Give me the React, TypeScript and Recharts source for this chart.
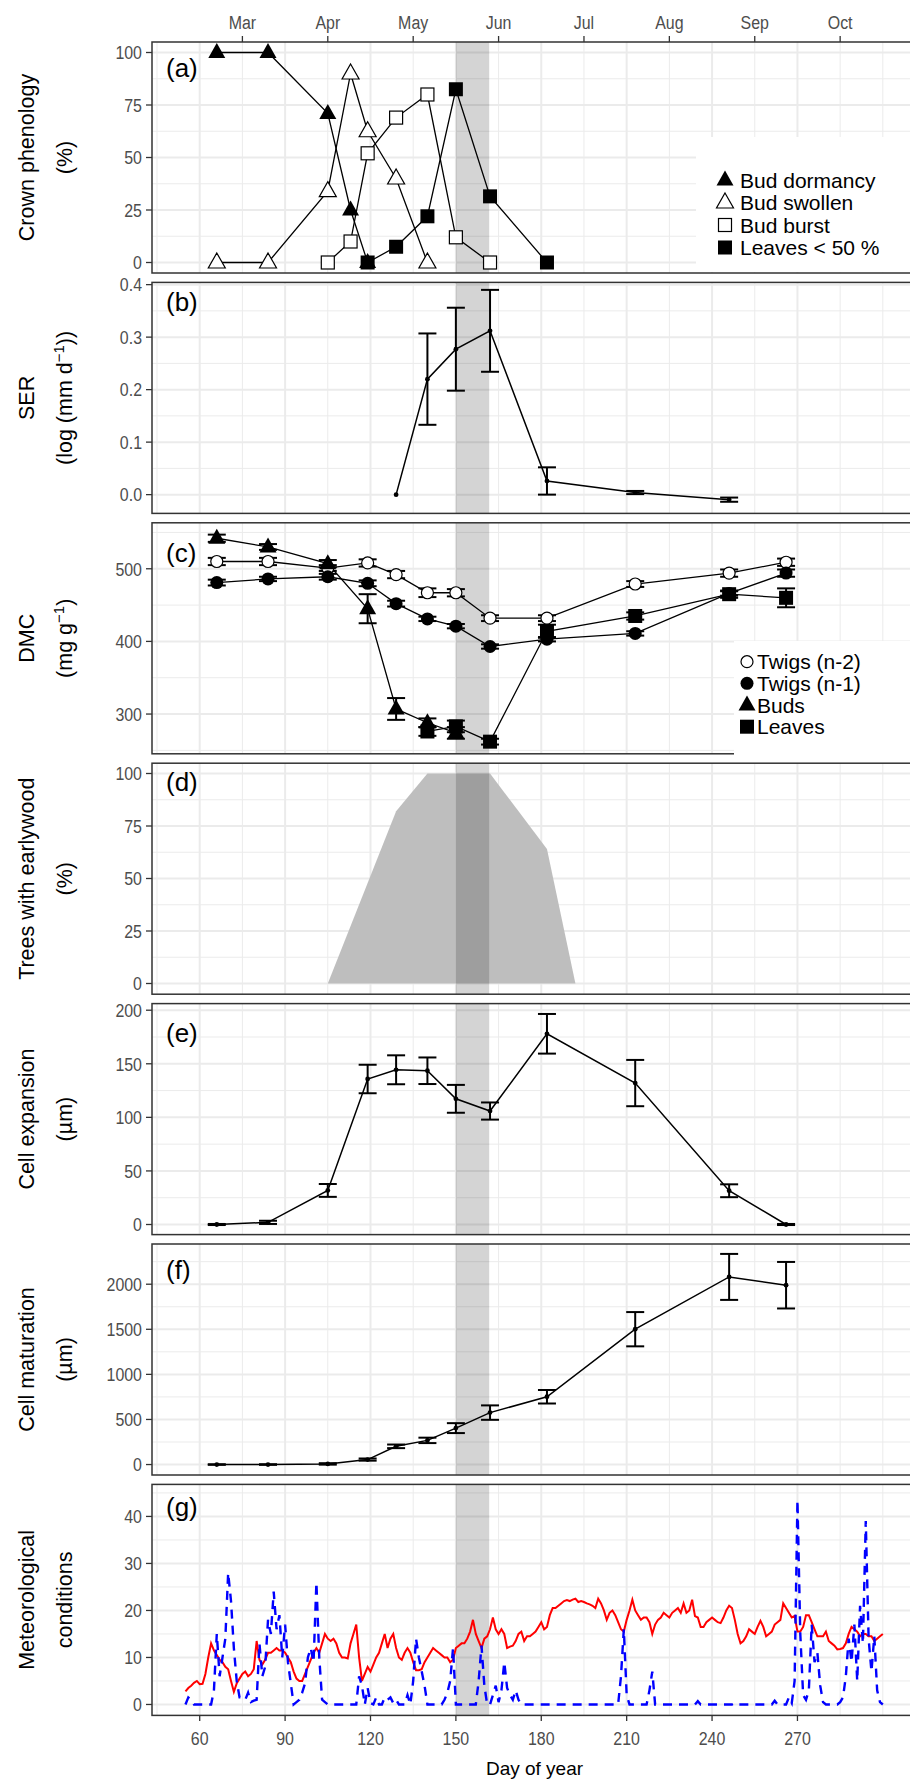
import React from 'react';
import { ComposedChart, Line, Area, XAxis, YAxis, ReferenceLine, ReferenceArea, ErrorBar } from 'recharts';

// ---------------- data ----------------
const monthLabels = ['Mar', 'Apr', 'May', 'Jun', 'Jul', 'Aug', 'Sep', 'Oct'];
const monthTicks = [75, 105, 135, 165, 195, 225, 255, 285];
const dayTicks = [60, 90, 120, 150, 180, 210, 240, 270];
const dayMinor = [45, 75, 105, 135, 165, 195, 225, 255, 285, 300];
const bandStart = 150;
const bandEnd = 161.7;

// (a) crown phenology (%)
const dormancyDays = [66, 84, 105, 113, 119];
const dormancyPct = [100, 100, 71, 25, 0];
const swollenDays = [66, 84, 105, 113, 119, 129, 140];
const swollenPct = [0, 0, 34, 90, 62.5, 40, 0];
const burstDays = [105, 113, 119, 129, 140, 150, 162];
const burstPct = [0, 10, 52, 69, 80, 12, 0];
const leaves50Days = [119, 129, 140, 150, 162, 182];
const leaves50Pct = [0, 7.5, 22, 82.5, 31.5, 0];

// (b) SER
const serDays = [129, 140, 150, 162, 182, 213, 246];
const serVal = [0, 0.22, 0.277, 0.312, 0.026, 0.004, -0.0096];
const serErr = [0, 0.087, 0.079, 0.078, 0.026, 0.003, 0.004];

// (c) DMC
const twigs2Days = [66, 84, 105, 119, 129, 140, 150, 162, 182, 213, 246, 266];
const twigs2Val = [510, 510, 501, 508, 492, 467, 467, 432, 432, 479, 494, 509];
const twigs2Err = [5, 5, 4, 5, 5, 6, 5, 4, 4, 4, 5, 5];
const twigs1Days = [66, 84, 105, 119, 129, 140, 150, 162, 182, 213, 246, 266];
const twigs1Val = [481, 486, 489, 480, 452, 431, 421, 393, 403, 411, 466, 494];
const twigs1Err = [4, 3, 4, 4, 4, 3, 3, 3, 3, 3, 3, 5];
const budsDays = [66, 84, 105, 119, 129, 140, 150];
const budsVal = [542, 530, 507, 445, 307, 288, 274];
const budsErr = [5, 4, 5, 20, 15, 6, 8];
const leavesDays = [140, 150, 162, 182, 213, 246, 266];
const leavesVal = [276, 283, 262, 414, 435, 465, 460];
const leavesErr = [6, 8, 4, 9, 5, 5, 13];

// (d) trees with earlywood (%)
const earlyDays = [105, 129, 140, 150, 162, 182, 192];
const earlyPct = [0, 82, 100, 100, 100, 64, 0];

// (e) cell expansion (um)
const xylemDays = [66, 84, 105, 119, 129, 140, 150, 162, 182, 213, 246, 266];
const expVal = [0, 2, 31.8, 135.8, 144.4, 143.5, 117.3, 105.9, 178, 132, 31.5, 0];
const expErr = [0.5, 1.5, 6, 13.3, 13.5, 12.4, 13, 8, 18.5, 21.6, 6, 0.5];

// (f) cell maturation (um)
const matVal = [0, 0, 7, 55, 202, 268, 404, 576, 752, 1501, 2081, 1989];
const matErr = [3, 3, 8, 12, 20, 30, 55, 80, 75, 190, 255, 258];

// (g) meteorological conditions, daily from day 55 to day 300
const metFirstDay = 55;
const temperature = [
  2.8, 3.5, 4.0, 4.6, 5.0, 4.3, 4.4, 6.5, 10, 13,
  11.5, 10.5, 9.5, 9, 8, 7.5, 5, 2.7, 4.5, 5.5,
  6.5, 7, 6, 6.5, 7.5, 13.5, 9.5, 8.5, 9.5, 11,
  11, 11.5, 12, 11.5, 11.5, 11, 10, 9, 7, 5.5,
  5, 5, 6.5, 8, 9.5, 11, 12, 11, 13, 15,
  14, 13.5, 14, 13, 11, 10, 10, 9.8, 13, 15,
  17, 10, 5, 6.5, 8, 7, 8.5, 10, 11, 13,
  15, 12, 14, 15, 12, 10, 9.5, 11, 12, 11,
  9, 7.3, 7.3, 7.5, 9, 10, 11, 12, 11.5, 11,
  10.5, 10, 10, 9, 9.5, 12, 12.5, 13, 13, 14,
  15.5, 18, 15, 13.5, 12, 14, 14.5, 16, 18.5, 16,
  15, 16, 15, 12, 12.3, 12.5, 13.5, 15, 15.5, 13.5,
  14.5, 14.5, 15, 15.5, 16.5, 17.5, 16, 16.5, 19, 20.5,
  20.5, 21, 21.5, 22, 22.2, 22, 22.3, 22.5, 21.8, 22,
  21.8, 21.5, 21.3, 21, 20.5, 22.5, 21.5, 20, 18, 19.5,
  20, 19, 17.5, 16, 15.5, 18, 20, 22.3, 20, 19,
  18, 18.5, 18.5, 17.5, 15, 17, 18, 18.5, 19.5, 19,
  18.5, 19.5, 20, 20.5, 19.5, 21.5, 19.5, 20, 22.3, 18.8,
  18.5, 16.5, 16.5, 17.5, 18, 18.5, 18, 17.5, 17.3, 18.5,
  20, 21, 20.5, 18, 15, 13, 13.5, 14.5, 16, 15.5,
  15, 16.5, 17.8, 16.5, 14.5, 15, 15.5, 17, 17.5, 18,
  21.5, 20.5, 19.5, 18.5, 18.8, 15.5, 15.5, 16.5, 19, 19,
  17.5, 16, 14.5, 14.5, 14.5, 15.5, 13.5, 13, 12.5, 11.7,
  11.8, 12, 13, 15, 16.5, 16, 15.5, 14.5, 15, 15,
  14.5, 14.5, 13.5, 14, 14.5, 15,
];
const precipitation = [
  0, 1.5, 1, 0, 0, 0, 0, 0, 0, 0,
  3, 15, 6, 10, 14, 28, 22, 12, 5, 1.5,
  1.5, 1, 2.5, 0.5, 0.8, 1, 13, 6, 8, 18,
  15, 24, 16, 19, 10, 17, 9, 4.5, 0, 0.5,
  1, 2.5, 4.5, 10, 12, 9, 26, 10, 1, 0.5,
  0, 0, 0, 0, 0, 0, 0, 0, 0, 0,
  0, 6, 4, 0, 3.5, 0.3, 0, 1.5, 0, 0,
  1.5, 1, 1.5, 0.3, 1, 0, 0, 0, 2, 0,
  5, 14, 10, 7, 4, 0, 0, 0, 0, 0,
  0, 1, 2.5, 5, 12, 0, 0, 0, 0, 0,
  0, 0, 0, 5, 12.5, 4, 0, 0, 2, 4,
  0.5, 3, 9, 3.5, 2, 1, 3, 1, 0, 0,
  0, 0, 0, 0, 0, 0, 0, 0, 0, 0,
  0, 0, 0, 0, 0, 0, 0, 0, 0, 0,
  0, 0, 0, 0, 0, 0, 0, 0, 0, 0,
  0, 0, 0, 6, 16, 2, 0, 0, 0, 0,
  0, 0, 0, 3, 7, 0, 0, 0, 0, 0,
  0, 0, 0, 0, 0, 0, 0, 0, 0, 0,
  0.7, 0, 0, 0, 0, 0, 0, 0, 0, 0,
  0, 0, 0, 0.3, 0, 0, 0, 0, 0, 0,
  0, 0, 0, 0, 0, 0, 0, 0.8, 0, 0,
  0, 0, 1.5, 0.3, 5, 43.5, 15, 2, 1, 3,
  17, 9, 11, 4, 0.5, 0, 0, 0, 0, 0,
  0.5, 1.5, 6, 14, 9, 17, 5, 21, 13, 39,
  14, 7, 14.5, 3, 0.5, 0,
];

// ---------------- layout / style ----------------
const CHART_W = 917;
const Y_AXIS_W = 152;
const P = 231;
const PITCH = 240.4;
const TOP0 = 42;
const PAD = 14;
const X_DOMAIN: [number, number] = [43.24, 312];
const SANS = "'Liberation Sans',Arial,sans-serif";
const GRID = '#ebebeb';
const panelTop = (i: number) => TOP0 + i * PITCH;

const pts = (xs: number[], ys: number[], es?: number[]) =>
  xs.map((x, i) => ({ x, y: ys[i], e: es ? es[i] : 0 }));
const metTemp = temperature.map((y, i) => ({ x: metFirstDay + i, y }));
const metPrec = precipitation.map((y, i) => ({ x: metFirstDay + i, y }));

// condensed grey tick labels (like the original's narrow font)
const mkTick = (orient: 'left' | 'top' | 'bottom', fmt?: (v: number) => string) => (props: any) => {
  const { x, y, payload, index } = props;
  const v = payload?.value;
  const label = fmt ? fmt(v) : String(v);
  const dy = orient === 'left' ? '0.36em' : orient === 'bottom' ? '0.72em' : '0';
  const anchor = orient === 'left' ? 'end' : 'middle';
  return (
    <g key={`t-${orient}-${index}-${v}`} transform={`translate(${x},${y}) scale(0.84,1)`}>
      <text x={0} y={0} dy={dy} textAnchor={anchor} fill="#4d4d4d" fontSize={19} fontFamily={SANS}>{label}</text>
    </g>
  );
};

// ---------------- markers ----------------
type DP = { cx?: number; cy?: number; index?: number };
const triPath = (cx: number, cy: number) => `M${cx},${cy - 9.5} L${cx + 8.5},${cy + 5.5} L${cx - 8.5},${cy + 5.5} Z`;
const mkDot = (kind: string) => (p: DP) => {
  const { cx, cy, index } = p;
  const k = `${kind}-${index}`;
  if (cx == null || cy == null) return <g key={k} />;
  switch (kind) {
    case 'triF': return <path key={k} d={triPath(cx, cy)} fill="#000" />;
    case 'triO': return <path key={k} d={triPath(cx, cy)} fill="#fff" stroke="#000" strokeWidth={1.2} />;
    case 'sqF': return <rect key={k} x={cx - 7} y={cy - 7} width={14} height={14} fill="#000" />;
    case 'sqO': return <rect key={k} x={cx - 6.5} y={cy - 6.5} width={13} height={13} fill="#fff" stroke="#000" strokeWidth={1.2} />;
    case 'cirF': return <circle key={k} cx={cx} cy={cy} r={6.5} fill="#000" />;
    case 'cirO': return <circle key={k} cx={cx} cy={cy} r={6} fill="#fff" stroke="#000" strokeWidth={1.2} />;
    default: return <circle key={k} cx={cx} cy={cy} r={2.4} fill="#000" />;
  }
};

// ---------------- helpers ----------------
function gridLines(yMajor: number[], yMinor: number[]) {
  const out: React.ReactElement[] = [];
  dayMinor.forEach((d) => out.push(<ReferenceLine key={`xm${d}`} x={d} stroke={GRID} strokeWidth={1} zIndex={-100} />));
  dayTicks.forEach((d) => out.push(<ReferenceLine key={`xM${d}`} x={d} stroke={GRID} strokeWidth={2} zIndex={-100} />));
  yMinor.forEach((v) => out.push(<ReferenceLine key={`ym${v}`} y={v} stroke={GRID} strokeWidth={1} zIndex={-100} />));
  yMajor.forEach((v) => out.push(<ReferenceLine key={`yM${v}`} y={v} stroke={GRID} strokeWidth={2} zIndex={-100} />));
  return out;
}
const band = () => (
  <ReferenceArea key="band" x1={bandStart} x2={bandEnd} fill="#000" fillOpacity={0.17} stroke="none" zIndex={150} />
);

// line with markers, then the error bars drawn on top of the markers
function errLine(key: string, data: any[], dot: string, sw = 1.3) {
  return [
    <Line key={key} data={data} dataKey="y" type="linear" stroke="#000" strokeWidth={sw}
      dot={mkDot(dot)} activeDot={false} isAnimationActive={false} legendType="none" zIndex={400} />,
    <Line key={`${key}-err`} data={data} dataKey="y" type="linear" stroke="none" strokeWidth={0}
      dot={false} activeDot={false} isAnimationActive={false} legendType="none" zIndex={450}>
      <ErrorBar dataKey="e" direction="y" width={9} strokeWidth={2} stroke="#000" isAnimationActive={false} />
    </Line>,
  ];
}
function plainLine(key: string, data: any[], dot: string) {
  return (
    <Line key={key} data={data} dataKey="y" type="linear" stroke="#000" strokeWidth={1.3}
      dot={mkDot(dot)} activeDot={false} isAnimationActive={false} legendType="none" zIndex={400} />
  );
}

type PanelProps = {
  idx: number;
  yDomain: [number, number];
  yTicks: number[];
  yMinor: number[];
  yFmt?: (v: number) => string;
  children: React.ReactNode;
};

function Panel({ idx, yDomain, yTicks, yMinor, yFmt, children }: PanelProps) {
  const isTop = idx === 0;
  const isBottom = idx === 6;
  const topH = isTop ? panelTop(0) : 0;
  const bottomH = isBottom ? 70 : 0;
  const mTop = isTop ? 0 : PAD;
  const mBottom = isBottom ? 0 : PAD;
  const height = topH + mTop + P + bottomH + mBottom;
  const divTop = isTop ? 0 : panelTop(idx) - PAD;
  return (
    <div style={{ position: 'absolute', left: 0, top: divTop }}>
      <ComposedChart width={CHART_W} height={height} margin={{ top: mTop, right: 0, bottom: mBottom, left: 0 }}>
        <XAxis xAxisId={0} type="number" dataKey="x" domain={X_DOMAIN} allowDataOverflow
          hide={!isBottom} height={bottomH} ticks={dayTicks} interval={0}
          tick={mkTick('bottom')} tickSize={6} tickMargin={10} axisLine={false}
          tickLine={{ stroke: '#333', strokeWidth: 1.3 }}
          label={isBottom ? { value: 'Day of year', position: 'insideBottom', offset: 10, fill: '#000', fontSize: 19, fontFamily: SANS } : undefined} />
        {isTop && (
          <XAxis xAxisId="top" orientation="top" type="number" dataKey="x" domain={X_DOMAIN} allowDataOverflow
            height={topH} ticks={monthTicks} interval={0}
            tick={mkTick('top', (v: number) => monthLabels[monthTicks.indexOf(v)] ?? '')}
            tickSize={6} tickMargin={7} axisLine={false}
            tickLine={{ stroke: '#333', strokeWidth: 1.3 }} />
        )}
        <YAxis type="number" domain={yDomain} allowDataOverflow ticks={yTicks} interval={0}
          width={Y_AXIS_W} tick={mkTick('left', yFmt)} tickSize={6} tickMargin={4} axisLine={false}
          tickLine={{ stroke: '#333', strokeWidth: 1.3 }} />
        {gridLines(yTicks, yMinor)}
        {children}
      </ComposedChart>
    </div>
  );
}

// ---------------- overlay (frames, labels, legends) ----------------
const panelLetters = ['(a)', '(b)', '(c)', '(d)', '(e)', '(f)', '(g)'];
const letterY = [68, 301.7, 553, 781.7, 1033, 1270, 1506.7];

function Sup({ base, sup, tail }: { base: string; sup: string; tail: string }) {
  return (
    <>
      <tspan>{base}</tspan>
      <tspan dy={-8} fontSize={15}>{sup}</tspan>
      <tspan dy={8}>{tail}</tspan>
    </>
  );
}
const yTitles: { l1: string; l2: React.ReactNode }[] = [
  { l1: 'Crown phenology', l2: '(%)' },
  { l1: 'SER', l2: <Sup base="(log (mm d" sup="−1" tail="))" /> },
  { l1: 'DMC', l2: <Sup base="(mg g" sup="−1" tail=")" /> },
  { l1: 'Trees with earlywood', l2: '(%)' },
  { l1: 'Cell expansion', l2: '(µm)' },
  { l1: 'Cell maturation', l2: '(µm)' },
  { l1: 'Meteorological', l2: 'conditions' },
];

const legendA = [
  { label: 'Bud dormancy', kind: 'triF' },
  { label: 'Bud swollen', kind: 'triO' },
  { label: 'Bud burst', kind: 'sqO' },
  { label: 'Leaves < 50 %', kind: 'sqF' },
];
const legendC = [
  { label: 'Twigs (n-2)', kind: 'cirO' },
  { label: 'Twigs (n-1)', kind: 'cirF' },
  { label: 'Buds', kind: 'triF' },
  { label: 'Leaves', kind: 'sqF' },
];

function LegendBox({ x, y, w, h, items, symX, textX, rowY }: any) {
  return (
    <g>
      <rect x={x} y={y} width={w} height={h} fill="#fff" />
      {items.map((it: any, i: number) => (
        <g key={it.label}>
          {mkDot(it.kind)({ cx: symX, cy: rowY[i], index: i })}
          <text x={textX} y={rowY[i] + 7.5} fontFamily={SANS} fontSize={21} fill="#000">{it.label}</text>
        </g>
      ))}
    </g>
  );
}

function Overlay() {
  return (
    <svg width={910} height={1783} style={{ position: 'absolute', left: 0, top: 0, pointerEvents: 'none' }}>
      {panelLetters.map((_, i) => (
        <rect key={`f${i}`} x={152} y={panelTop(i)} width={790} height={P} fill="none" stroke="#333" strokeWidth={1.5} />
      ))}
      <LegendBox x={696} y={137} w={230} h={135} items={legendA} symX={725} textX={740} rowY={[180, 202.5, 225, 247.5]} />
      <LegendBox x={734} y={641} w={200} h={116} items={legendC} symX={747} textX={757} rowY={[661.7, 683.3, 705, 726.7]} />
      {panelLetters.map((t, i) => (
        <text key={t} x={166} y={letterY[i] + 9} fontFamily={SANS} fontSize={26} fill="#000">{t}</text>
      ))}
      {yTitles.map((t, i) => {
        const cy = panelTop(i) + P / 2;
        return (
          <g key={`yt${i}`} fontFamily={SANS} fontSize={21.5} fill="#000">
            <text transform={`translate(34,${cy}) rotate(-90)`} textAnchor="middle">{t.l1}</text>
            <text transform={`translate(72,${cy}) rotate(-90)`} textAnchor="middle">{t.l2}</text>
          </g>
        );
      })}
    </svg>
  );
}

export default function App() {
  return (
    <div style={{ position: 'absolute', left: 0, top: 0, width: 910, height: 1783, overflow: 'hidden', background: '#fff' }}>
      <Panel idx={0} yDomain={[-5, 105]} yTicks={[0, 25, 50, 75, 100]} yMinor={[12.5, 37.5, 62.5, 87.5]}>
        {band()}
        {plainLine('dorm', pts(dormancyDays, dormancyPct), 'triF')}
        {plainLine('swol', pts(swollenDays, swollenPct), 'triO')}
        {plainLine('burst', pts(burstDays, burstPct), 'sqO')}
        {plainLine('lv50', pts(leaves50Days, leaves50Pct), 'sqF')}
      </Panel>
      <Panel idx={1} yDomain={[-0.035, 0.405]} yTicks={[0, 0.1, 0.2, 0.3, 0.4]} yMinor={[0.05, 0.15, 0.25, 0.35]}
        yFmt={(v: number) => v.toFixed(1)}>
        {band()}
        {errLine('ser', pts(serDays, serVal, serErr), 'small', 1.5)}
      </Panel>
      <Panel idx={2} yDomain={[245, 563]} yTicks={[300, 400, 500]} yMinor={[250, 350, 450, 550]}>
        {band()}
        {errLine('tw2', pts(twigs2Days, twigs2Val, twigs2Err), 'cirO')}
        {errLine('tw1', pts(twigs1Days, twigs1Val, twigs1Err), 'cirF')}
        {errLine('buds', pts(budsDays, budsVal, budsErr), 'triF')}
        {errLine('lvs', pts(leavesDays, leavesVal, leavesErr), 'sqF')}
      </Panel>
      <Panel idx={3} yDomain={[-5, 105]} yTicks={[0, 25, 50, 75, 100]} yMinor={[12.5, 37.5, 62.5, 87.5]}>
        <Area key="early" data={pts(earlyDays, earlyPct)} dataKey="y" type="linear" fill="#bebebe" fillOpacity={1}
          stroke="none" dot={false} activeDot={false} isAnimationActive={false} legendType="none" zIndex={100} />
        {band()}
      </Panel>
      <Panel idx={4} yDomain={[-9.8, 205.8]} yTicks={[0, 50, 100, 150, 200]} yMinor={[25, 75, 125, 175]}>
        {band()}
        {errLine('exp', pts(xylemDays, expVal, expErr), 'small', 1.5)}
      </Panel>
      <Panel idx={5} yDomain={[-116, 2446]} yTicks={[0, 500, 1000, 1500, 2000]} yMinor={[250, 750, 1250, 1750, 2250]}>
        {band()}
        {errLine('mat', pts(xylemDays, matVal, matErr), 'small', 1.5)}
      </Panel>
      <Panel idx={6} yDomain={[-2.24, 46.9]} yTicks={[0, 10, 20, 30, 40]} yMinor={[5, 15, 25, 35, 45]}>
        {band()}
        <Line key="temp" data={metTemp} dataKey="y" type="linear" stroke="#ff0000" strokeWidth={2}
          dot={false} activeDot={false} isAnimationActive={false} legendType="none" zIndex={400} />
        <Line key="prec" data={metPrec} dataKey="y" type="linear" stroke="#0000ff" strokeWidth={2.4}
          strokeDasharray="9 7" dot={false} activeDot={false} isAnimationActive={false} legendType="none" zIndex={400} />
      </Panel>
      <Overlay />
    </div>
  );
}
